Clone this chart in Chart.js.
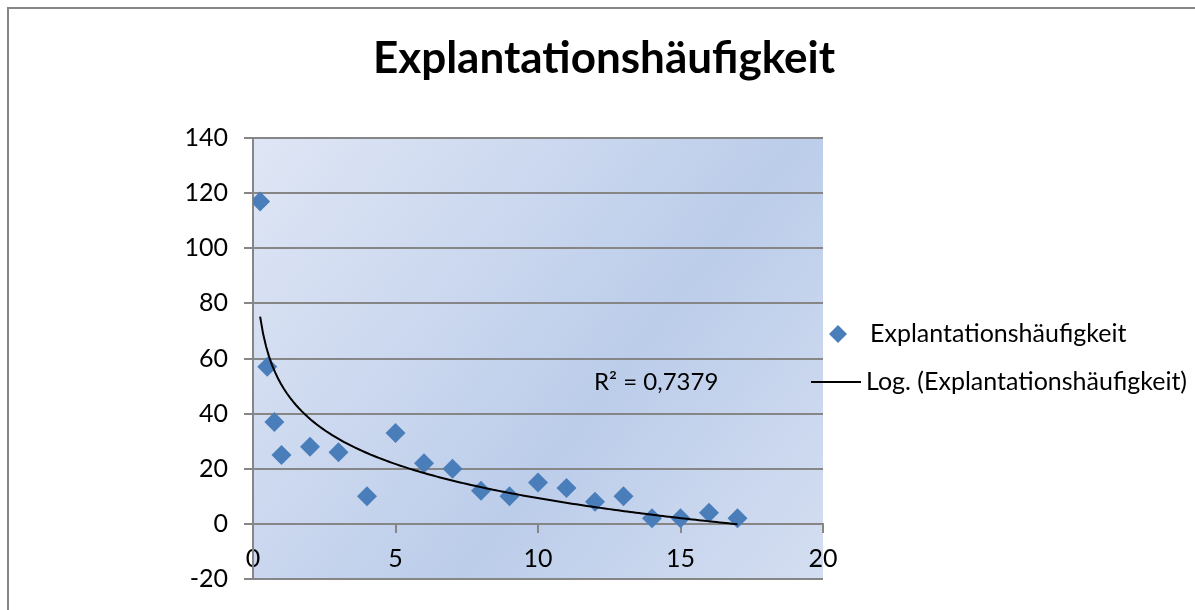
<!DOCTYPE html>
<html>
<head>
<meta charset="utf-8">
<script src="https://cdn.jsdelivr.net/npm/chart.js@4.4.1/dist/chart.umd.min.js"></script>
<style>
  html, body { margin: 0; padding: 0; background: #ffffff; }
  #wrap { width: 1195px; height: 610px; position: relative; }
</style>
</head>
<body>
<div id="wrap"><canvas id="c" width="1195" height="610"></canvas></div>
<script>
// Texts
const chartTitle = 'Explantationshäufigkeit';
const seriesName = 'Explantationshäufigkeit';
const trendName = 'Log. (Explantationshäufigkeit)';
const rSquaredLabel = 'R² = 0,7379';

// Observations: time after implantation (years) and explantation counts
const years  = [0.25, 0.5, 0.75, 1, 2, 3, 4, 5, 6, 7, 8, 9, 10, 11, 12, 13, 14, 15, 16, 17];
const counts = [117, 57, 37, 25, 28, 26, 10, 33, 22, 20, 12, 10, 15, 13, 8, 10, 2, 2, 4, 2];

// Axis ranges and tick steps
const xRange = [0, 20];
const xStep = 5;
const yRange = [-20, 140];
const yStep = 20;

// Logarithmic least-squares fit y = a*ln(x) + b
function logFit(xs, ys) {
  const n = xs.length;
  const lx = xs.map(Math.log);
  const mx = lx.reduce((s, v) => s + v, 0) / n;
  const my = ys.reduce((s, v) => s + v, 0) / n;
  let sxy = 0, sxx = 0;
  for (let i = 0; i < n; i++) {
    sxy += (lx[i] - mx) * (ys[i] - my);
    sxx += (lx[i] - mx) * (lx[i] - mx);
  }
  const a = sxy / sxx;
  return { a, b: my - a * mx };
}
const fit = logFit(years, counts);
const trendPoints = [];
{
  const x0 = Math.min(...years), x1 = Math.max(...years), steps = 160;
  for (let i = 0; i <= steps; i++) {
    const x = x0 + (x1 - x0) * i / steps;
    trendPoints.push({ x, y: fit.a * Math.log(x) + fit.b });
  }
}

const FONT = 'Lato';
const GRID = '#868686';
const MARKER = '#4a7ebb';

const decorations = {
  id: 'decorations',
  beforeDraw(chart) {
    const { ctx, chartArea: a } = chart;
    ctx.save();
    ctx.fillStyle = '#ffffff';
    ctx.fillRect(0, 0, chart.width, chart.height);
    // outer frame
    ctx.strokeStyle = GRID;
    ctx.lineWidth = 2;
    ctx.strokeRect(8, 8, chart.width + 20, chart.height + 20);
    // plot area fill
    const g = ctx.createLinearGradient(a.left, a.top, a.right, a.bottom);
    g.addColorStop(0, '#dfe6f5');
    g.addColorStop(0.6, '#bccdea');
    g.addColorStop(1, '#d4def1');
    ctx.fillStyle = g;
    ctx.fillRect(a.left, a.top, a.right - a.left, a.bottom - a.top);
    ctx.restore();
  },
  afterDraw(chart) {
    const { ctx } = chart;
    ctx.save();
    ctx.fillStyle = '#000000';
    ctx.textBaseline = 'middle';
    // title
    ctx.font = 'bold 44px ' + FONT;
    ctx.textAlign = 'center';
    ctx.fillText(chartTitle, 604, 59);
    // legend
    ctx.font = '25px ' + FONT;
    ctx.textAlign = 'left';
    ctx.fillStyle = MARKER;
    ctx.beginPath();
    ctx.moveTo(838, 325); ctx.lineTo(847, 334); ctx.lineTo(838, 343); ctx.lineTo(829, 334);
    ctx.closePath();
    ctx.fill();
    ctx.fillStyle = '#000000';
    ctx.fillText(seriesName, 870, 334);
    ctx.strokeStyle = '#000000';
    ctx.lineWidth = 2;
    ctx.beginPath();
    ctx.moveTo(811, 382); ctx.lineTo(861, 382);
    ctx.stroke();
    ctx.fillText(trendName, 866, 382);
    // R² label
    ctx.font = '24px ' + FONT;
    ctx.fillText(rSquaredLabel, 594, 382);
    ctx.restore();
  }
};

new Chart(document.getElementById('c'), {
  type: 'scatter',
  data: {
    datasets: [
      {
        label: trendName,
        type: 'line',
        data: trendPoints,
        borderColor: '#000000',
        borderWidth: 2,
        pointRadius: 0,
        fill: false,
        tension: 0,
        order: 0
      },
      {
        label: seriesName,
        data: years.map((x, i) => ({ x, y: counts[i] })),
        pointStyle: 'rectRot',
        pointRadius: 10,
        backgroundColor: MARKER,
        borderColor: MARKER,
        borderWidth: 0,
        order: 1
      }
    ]
  },
  options: {
    responsive: false,
    animation: false,
    devicePixelRatio: 1,
    layout: { padding: { top: 138, right: 372, bottom: 29, left: 0 } },
    plugins: {
      legend: { display: false },
      title: { display: false },
      tooltip: { enabled: false }
    },
    scales: {
      x: {
        type: 'linear',
        axis: 'x',
        position: { y: 0 },
        min: xRange[0],
        max: xRange[1],
        ticks: { stepSize: xStep, color: '#000', font: { family: FONT, size: 25 }, padding: 12, maxRotation: 0 },
        grid: { drawOnChartArea: false, drawTicks: true, tickLength: 8, color: GRID, lineWidth: 2 },
        border: { display: true, color: GRID, width: 2 }
      },
      y: {
        type: 'linear',
        position: 'left',
        min: yRange[0],
        max: yRange[1],
        afterFit(scale) { scale.width = 253; },
        ticks: { stepSize: yStep, color: '#000', font: { family: FONT, size: 25 }, padding: 16 },
        grid: { color: GRID, lineWidth: 2, tickLength: 9 },
        border: { display: true, color: GRID, width: 2 }
      }
    }
  },
  plugins: [decorations]
});
</script>
</body>
</html>
